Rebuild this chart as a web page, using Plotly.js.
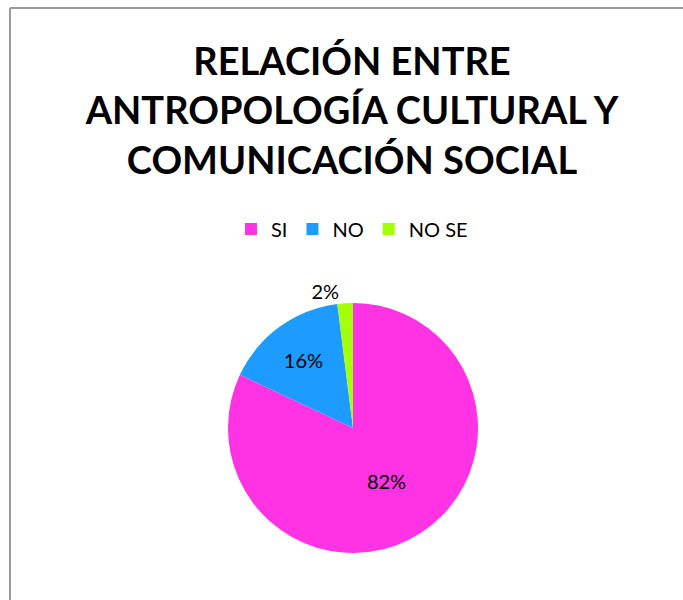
<!DOCTYPE html>
<html>
<head>
<meta charset="utf-8">
<script src="https://cdn.plot.ly/plotly-3.0.1.min.js"></script>
<style>html,body{margin:0;padding:0;background:#fff;}#chart{width:683px;height:600px;}</style>
</head>
<body>
<div id="chart"></div>
<script>
const categories = ["SI", "NO", "NO SE"];
const values = [82, 16, 2];
const colors = ["#FF33E3", "#1E9BFF", "#A6FF0A"];
const titleText = "RELACIÓN ENTRE<br>ANTROPOLOGÍA CULTURAL Y<br>COMUNICACIÓN SOCIAL";

const W = 683, H = 600;
const cx = 353, cy = 428, r = 125;

const trace = {
  type: "pie",
  labels: categories,
  values: values,
  marker: {colors: colors, line: {width: 0}},
  sort: false,
  direction: "clockwise",
  rotation: 0,
  texttemplate: "%{percent:.0%}",
  textposition: ["inside", "inside", "outside"],
  insidetextorientation: "horizontal",
  textfont: {family: "Lato, 'Open Sans', sans-serif", size: 20, color: "#000"},
  outsidetextfont: {family: "Lato, 'Open Sans', sans-serif", size: 20, color: "#000"},
  hoverinfo: "label+percent",
  domain: {x: [(cx - r) / W, (cx + r) / W], y: [(H - cy - r) / H, (H - cy + r) / H]},
  showlegend: true
};

const layout = {
  width: W, height: H,
  margin: {l: 0, r: 0, t: 0, b: 0},
  paper_bgcolor: "#fff",
  title: {
    text: titleText,
    x: 352 / W, xanchor: "center",
    y: 1 - 75 / H, yanchor: "top",
    font: {family: "Lato, 'Open Sans', sans-serif", size: 38, color: "#000", weight: "bold"}
  },
  legend: {
    orientation: "h",
    x: 352 / W, xanchor: "center",
    y: 1 - 229 / H, yanchor: "middle",
    font: {family: "Lato, 'Open Sans', sans-serif", size: 20, color: "#000"},
    itemwidth: 30,
    traceorder: "normal"
  },
  shapes: [
    {type: "line", xref: "paper", yref: "paper", x0: 10 / W, x1: 1, y0: 1 - 8 / H, y1: 1 - 8 / H, line: {color: "#999", width: 2}},
    {type: "line", xref: "paper", yref: "paper", x0: 10 / W, x1: 10 / W, y0: 0, y1: 1 - 8 / H, line: {color: "#999", width: 2}}
  ]
};

Plotly.newPlot("chart", [trace], layout, {displayModeBar: false, staticPlot: true});
</script>
</body>
</html>
